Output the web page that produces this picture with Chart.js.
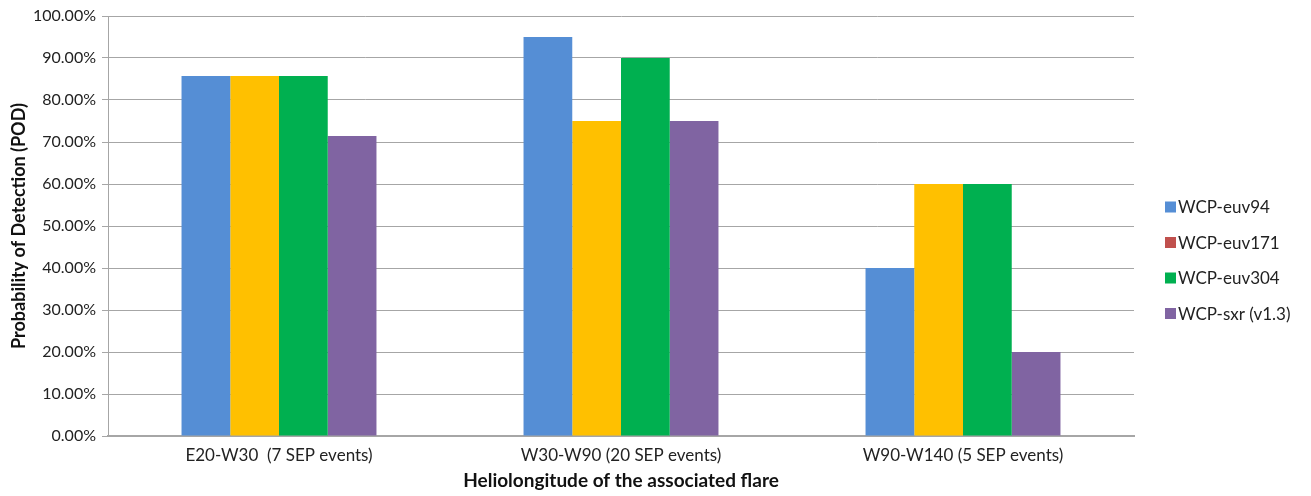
<!DOCTYPE html>
<html>
<head>
<meta charset="utf-8">
<script src="https://cdn.jsdelivr.net/npm/chart.js@4.4.1/dist/chart.umd.min.js"></script>
<style>
  html, body { margin: 0; padding: 0; background: #ffffff; }
  #wrap { width: 1311px; height: 496px; position: relative; }
</style>
</head>
<body>
<div id="wrap"><canvas id="c" width="1311" height="496"></canvas></div>
<script>
// Flare longitude bins
const categories = ['E20-W30  (7 SEP events)', 'W30-W90 (20 SEP events)', 'W90-W140 (5 SEP events)'];

// Probability of detection (%) per method
const seriesNames = ['WCP-euv94', 'WCP-euv171', 'WCP-euv304', 'WCP-sxr (v1.3)'];
const euv94  = [85.71, 95, 40];
const euv171 = [85.71, 75, 60];
const euv304 = [85.71, 90, 60];
const sxr    = [71.43, 75, 20];

const yTicks = [0, 10, 20, 30, 40, 50, 60, 70, 80, 90, 100];

const barColors    = ['#558ED5', '#FFC000', '#00B050', '#8064A2'];
const legendColors = ['#558ED5', '#C0504D', '#00B050', '#8064A2'];

const FONT = 'Lato, "Open Sans", sans-serif';

// Legend drawn to the right of the plot area
const sideLegend = {
  id: 'sideLegend',
  afterDraw(chart) {
    const ctx = chart.ctx;
    ctx.save();
    ctx.font = '17px ' + FONT;
    ctx.textBaseline = 'middle';
    ctx.textAlign = 'left';
    const x0 = 1165, y0 = 207, step = 35.5, box = 11;
    chart.data.datasets.forEach((ds, i) => {
      const y = y0 + i * step;
      ctx.fillStyle = legendColors[i];
      ctx.fillRect(x0, y - box / 2, box, box);
      ctx.fillStyle = '#222222';
      ctx.fillText(ds.label, x0 + 13, y + 1);
    });
    ctx.restore();
  }
};

const seriesData = [euv94, euv171, euv304, sxr];

new Chart(document.getElementById('c'), {
  type: 'bar',
  data: {
    labels: categories,
    datasets: seriesNames.map((name, i) => ({
      label: name,
      data: seriesData[i],
      backgroundColor: barColors[i],
      borderWidth: 0,
      barPercentage: 1.0,
      categoryPercentage: 0.57
    }))
  },
  options: {
    responsive: false,
    animation: false,
    devicePixelRatio: 1,
    layout: { padding: { top: 16, right: 177, left: 0, bottom: 0 } },
    plugins: {
      legend: { display: false },
      tooltip: { enabled: false }
    },
    scales: {
      x: {
        grid: { display: false, drawTicks: false },
        border: { color: '#A6A6A6', width: 2 },
        ticks: { color: '#222222', font: { family: FONT, size: 17 }, padding: 9, maxRotation: 0, autoSkip: false },
        title: {
          display: true,
          text: 'Heliolongitude of the associated flare',
          color: '#111111',
          font: { family: FONT, size: 19, weight: 'bold' },
          padding: { top: 0, bottom: 4 }
        },
        afterFit(scale) { scale.height = 60; }
      },
      y: {
        min: 0,
        max: 100,
        afterBuildTicks(scale) { scale.ticks = yTicks.map(v => ({ value: v })); },
        grid: { color: '#A6A6A6', lineWidth: 1, tickLength: 6, drawTicks: true },
        border: { color: '#A6A6A6', width: 1 },
        ticks: {
          color: '#222222',
          font: { family: FONT, size: 16 },
          padding: 6,
          callback: v => v.toFixed(2) + '%'
        },
        title: {
          display: true,
          text: 'Probability of Detection (POD)',
          color: '#111111',
          font: { family: FONT, size: 18, weight: 'bold' },
          padding: { top: 8, bottom: 0 }
        },
        afterFit(scale) { scale.width = 108; }
      }
    }
  },
  plugins: [sideLegend]
});
</script>
</body>
</html>
